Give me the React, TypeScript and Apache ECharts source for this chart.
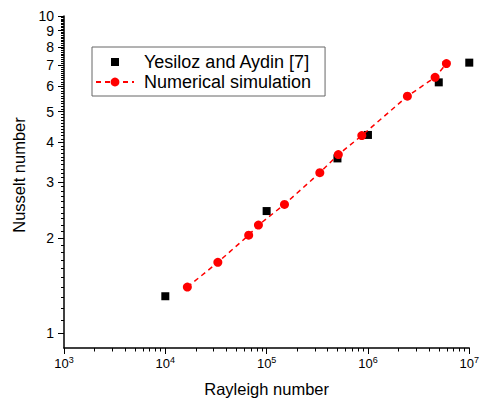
import React, { useEffect, useRef } from 'react';
import * as echarts from 'echarts';

// Experimental data: Yesiloz and Aydin [7]
const expRa = [1e4, 1e5, 5e5, 1e6, 5e6, 1e7];
const expNu = [1.31, 2.43, 3.56, 4.22, 6.18, 7.13];

// Numerical simulation
const simRa = [1.65e4, 3.3e4, 6.65e4, 8.3e4, 1.5e5, 3.35e5, 5.1e5, 8.7e5, 2.45e6, 4.6e6, 5.95e6];
const simNu = [1.4, 1.675, 2.04, 2.195, 2.55, 3.21, 3.66, 4.2, 5.59, 6.41, 7.08];

// Tick values
const xMajorTicks = [1e3, 1e4, 1e5, 1e6, 1e7];
const xMinorTicks: number[] = [];
[1e3, 1e4, 1e5, 1e6].forEach((d) => {
  [2, 3, 4, 5, 6, 7, 8, 9].forEach((m) => xMinorTicks.push(m * d));
});
const yMajorTicks = [1, 2, 3, 4, 5, 6, 7, 8, 9, 10];
const yMinorTicks: number[] = [];
[1, 2, 3, 4, 5, 6, 7, 8, 9].forEach((b) => {
  [1, 2, 3, 4, 5, 6, 7, 8, 9].forEach((t) => yMinorTicks.push(Math.round((b + t / 10) * 10) / 10));
});

const X_MIN = 1e3;
const X_MAX = 1e7;
const Y_MIN = 0.9;
const Y_MAX = 10;

const FONT = 'Arial, Liberation Sans, Helvetica, sans-serif';

export default function App() {
  const ref = useRef<HTMLDivElement>(null);
  useEffect(() => {
    document.body.style.margin = '0';
    const chart = echarts.init(ref.current!, undefined, { renderer: 'svg' });
    chart.setOption({
      animation: false,
      backgroundColor: '#fff',
      grid: { left: 64, right: 12, top: 16, bottom: 54 },
      legend: {
        orient: 'vertical',
        left: 92,
        top: 47,
        padding: [6, 14, 5, 3],
        itemGap: 2,
        itemWidth: 38,
        itemHeight: 11,
        borderColor: '#666',
        borderWidth: 1,
        textStyle: { fontSize: 18, fontFamily: FONT, color: '#000', lineHeight: 18, padding: [0, 0, 0, 5] },
        data: [
          { name: 'Yesiloz and Aydin [7]', icon: 'path://M0,0M11,11M1.5,1.5L9.5,1.5L9.5,9.5L1.5,9.5Z' },
          { name: 'Numerical simulation' },
        ],
      },
      xAxis: [
        {
          type: 'log',
          min: X_MIN,
          max: X_MAX,
          position: 'bottom',
          name: 'Rayleigh number',
          nameLocation: 'middle',
          nameGap: 32,
          nameTextStyle: { fontSize: 16.5, fontFamily: FONT, color: '#000' },
          axisLine: { show: true, lineStyle: { color: '#000', width: 1.5 } },
          axisTick: { show: true, length: 6, customValues: xMajorTicks },
          axisLabel: {
            customValues: xMajorTicks,
            margin: 7,
            formatter: (v: number) => `{b|10}{s|${Math.round(Math.log10(v))}}`,
            rich: {
              b: { fontSize: 13, fontFamily: FONT, color: '#000', lineHeight: 16 },
              s: { fontSize: 9, fontFamily: FONT, color: '#000', verticalAlign: 'top', lineHeight: 9 },
            },
          },
          splitLine: { show: false },
        },
        {
          type: 'log',
          min: X_MIN,
          max: X_MAX,
          position: 'bottom',
          axisLine: { show: false, lineStyle: { color: '#000' } },
          axisTick: { show: true, length: 3.5, customValues: xMinorTicks },
          axisLabel: { show: false },
          splitLine: { show: false },
        },
      ],
      yAxis: [
        {
          type: 'log',
          min: Y_MIN,
          max: Y_MAX,
          position: 'left',
          name: 'Nusselt number',
          nameLocation: 'middle',
          nameGap: 15,
          nameTextStyle: { fontSize: 16.5, fontFamily: FONT, color: '#000', padding: [0, 0, 0, 14] },
          axisLine: { show: true, lineStyle: { color: '#000', width: 1.5 } },
          axisTick: { show: true, length: 6, customValues: yMajorTicks },
          axisLabel: { customValues: yMajorTicks, margin: 10, fontSize: 14, fontFamily: FONT, color: '#000' },
          splitLine: { show: false },
        },
        {
          type: 'log',
          min: Y_MIN,
          max: Y_MAX,
          position: 'left',
          axisLine: { show: false, lineStyle: { color: '#000' } },
          axisTick: { show: true, length: 3, customValues: yMinorTicks },
          axisLabel: { show: false },
          splitLine: { show: false },
        },
      ],
      series: [
        {
          name: 'Yesiloz and Aydin [7]',
          type: 'scatter',
          xAxisIndex: 0,
          yAxisIndex: 0,
          symbol: 'rect',
          symbolSize: 8,
          itemStyle: { color: '#000', opacity: 1 },
          data: expRa.map((x, i) => [x, expNu[i]]),
        },
        {
          name: 'Numerical simulation',
          type: 'line',
          xAxisIndex: 0,
          yAxisIndex: 0,
          symbol: 'circle',
          symbolSize: 9,
          showSymbol: true,
          itemStyle: { color: '#ff0000', opacity: 1 },
          lineStyle: { color: '#ff0000', width: 1.5, type: [5, 4] },
          data: simRa.map((x, i) => [x, simNu[i]]),
        },
      ],
    });
    return () => chart.dispose();
  }, []);
  return <div ref={ref} style={{ width: 482, height: 402 }} />;
}
